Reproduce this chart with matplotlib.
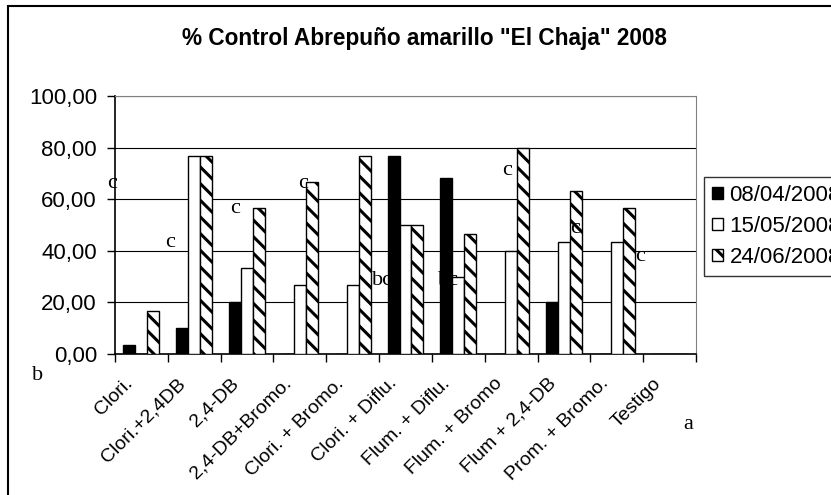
import matplotlib
matplotlib.use('Agg')
import matplotlib.pyplot as plt
import matplotlib.transforms as mtransforms
from matplotlib.patches import Rectangle
from matplotlib.ticker import FuncFormatter
import numpy as np

categories = ["Clori.", "Clori.+2,4DB", "2,4-DB", "2,4-DB+Bromo.", "Clori. + Bromo.",
              "Clori. + Diflu.", "Flum. + Diflu.", "Flum. + Bromo", "Flum + 2,4-DB",
              "Prom. + Bromo.", "Testigo"]
series_names = ["08/04/2008", "15/05/2008", "24/06/2008"]
v_0804 = [3.33, 10.0, 20.0, 0, 0, 76.67, 68.33, 0, 20.0, 0, 0]
v_1505 = [0, 76.67, 33.33, 26.67, 26.67, 50.0, 30.0, 40.0, 43.33, 43.33, 0]
v_2406 = [16.67, 76.67, 56.67, 66.67, 76.67, 50.0, 46.67, 80.0, 63.33, 56.67, 0]
yticks = [0, 20, 40, 60, 80, 100]

# loose letters pasted on the chart (pixel positions in the picture)
letters = ["c", "c", "c", "c", "bc", "bc", "c", "c", "c", "b", "a"]
letter_pos = [(112, 188), (170, 247), (235, 213), (303, 188), (382, 285),
              (448, 285), (507, 175), (575, 233), (640, 261), (38, 380), (688, 429)]

W, H = 831, 495
plt.rcParams['font.family'] = ['Liberation Sans', 'DejaVu Sans']
plt.rcParams['hatch.linewidth'] = 2.2

fig = plt.figure(figsize=(W / 100, H / 100), dpi=100)
ax = fig.add_axes([115 / W, 1 - 354 / H, 581 / W, 258 / H])

x = np.arange(len(categories)) + 0.5
bw = 0.227
ax.bar(x - bw, v_0804, bw, color='black', edgecolor='black', linewidth=1,
       label=series_names[0], zorder=3)
ax.bar(x, v_1505, bw, color='white', edgecolor='black', linewidth=1,
       label=series_names[1], zorder=3)
ax.bar(x + bw, v_2406, bw, color='white', edgecolor='black', linewidth=1,
       hatch='\\\\', label=series_names[2], zorder=3)

ax.set_xlim(0, len(categories))
ax.set_ylim(0, 100)
ax.set_yticks(yticks)
ax.yaxis.set_major_formatter(FuncFormatter(lambda v, p: f"{v:.2f}".replace('.', ',')))
ax.yaxis.grid(True, color='black', linewidth=0.8, zorder=1)
ax.set_axisbelow(True)
ax.tick_params(axis='y', length=6, width=1, pad=7, labelsize=16)

ax.set_xticks(np.arange(len(categories) + 1))
ax.set_xticklabels([])
ax.set_xticks(x, minor=True)
ax.set_xticklabels(categories, minor=True, rotation=45, ha='right', va='top', fontsize=14)
ax.tick_params(axis='x', which='major', length=6, width=1)
ax.tick_params(axis='x', which='minor', length=0, pad=15)
shift = mtransforms.ScaledTranslation(-5 / 100, 0, fig.dpi_scale_trans)
for lbl in ax.get_xticklabels(minor=True):
    lbl.set_transform(lbl.get_transform() + shift)

for side in ['top', 'right']:
    ax.spines[side].set_color('#808080')
for side in ['left', 'bottom']:
    ax.spines[side].set_linewidth(1.2)

fig.text(425 / W, 1 - 38 / H, '% Control Abrepuño amarillo "El Chaja" 2008',
         ha='center', va='center', fontsize=16.3, fontweight='bold')

for txt, (px, py) in zip(letters, letter_pos):
    fig.text(px / W, 1 - py / H, txt, ha='center', va='baseline', fontsize=16,
             family=['Liberation Serif', 'DejaVu Serif'], zorder=10)

leg = fig.legend(loc='upper left', bbox_to_anchor=(704 / W, 1 - 177 / H),
                 fontsize=16, frameon=True, fancybox=False, edgecolor='black',
                 handlelength=0.5, handleheight=0.5, handletextpad=0.3,
                 borderpad=0.35, labelspacing=0.45, borderaxespad=0)
leg.get_frame().set_linewidth(1)

fig.add_artist(Rectangle((8 / W, -0.1), 1.2, 1.1 - 6 / H, transform=fig.transFigure,
                         fill=False, edgecolor='black', linewidth=1.5, clip_on=False))

fig.savefig('out.png', dpi=100)
